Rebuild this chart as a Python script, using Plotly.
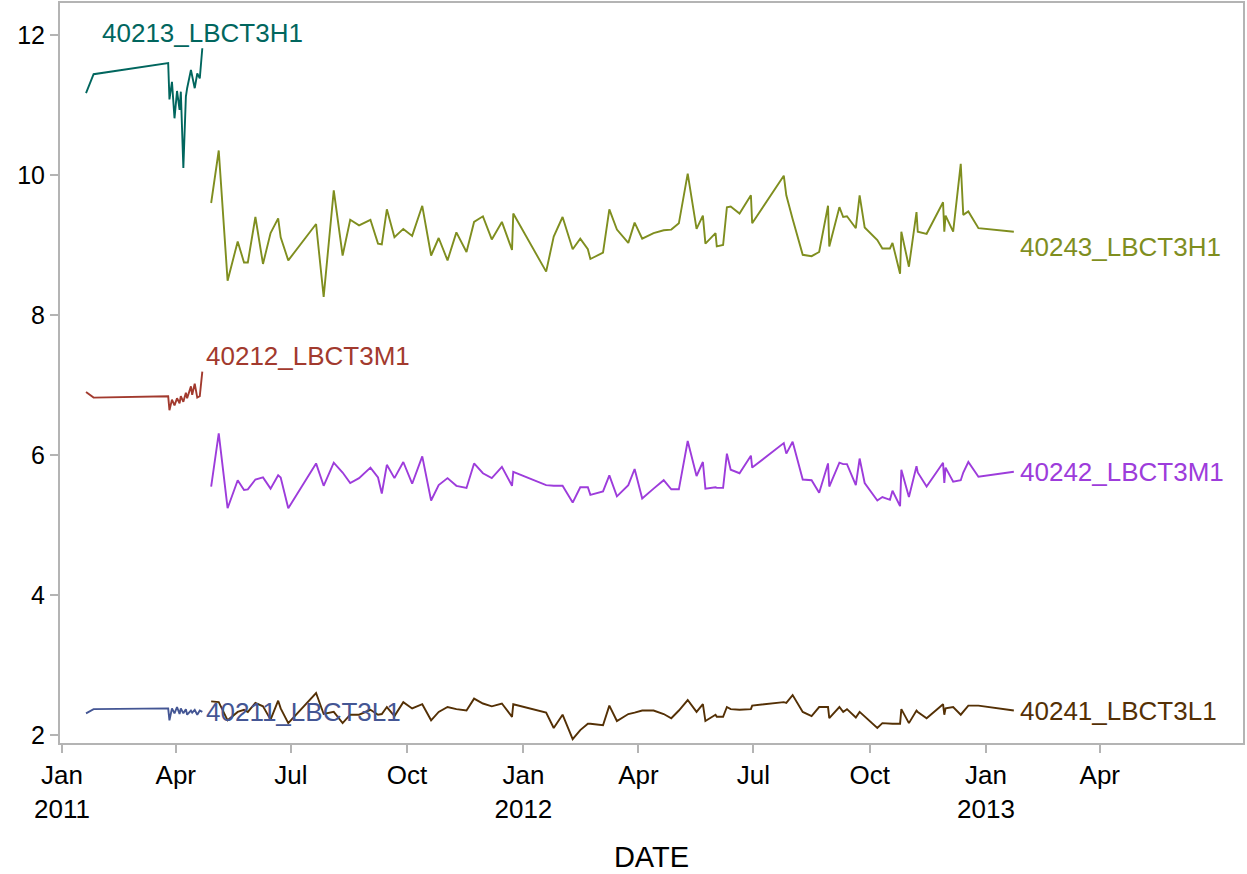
import plotly.graph_objects as go

# ---- data ----
short_dates = ["2011-01-20","2011-01-26","2011-03-26","2011-03-27","2011-03-29","2011-03-31",
               "2011-04-02","2011-04-04","2011-04-05","2011-04-07","2011-04-09","2011-04-10",
               "2011-04-13","2011-04-14","2011-04-16","2011-04-18","2011-04-20","2011-04-22"]
s40213 = [11.17,11.44,11.60,11.08,11.33,10.81,11.20,10.93,11.19,10.10,11.12,11.24,11.50,11.40,11.24,11.45,11.38,11.81]
s40212 = [6.90,6.82,6.84,6.64,6.79,6.71,6.81,6.74,6.84,6.76,6.89,6.81,6.98,6.86,7.02,6.82,6.84,7.19]
s40211 = [2.31,2.37,2.38,2.21,2.38,2.31,2.40,2.30,2.38,2.31,2.37,2.29,2.35,2.32,2.36,2.29,2.35,2.33]

long_dates = ["2011-04-29","2011-05-05","2011-05-12","2011-05-20","2011-05-25","2011-05-28",
              "2011-06-03","2011-06-09","2011-06-15","2011-06-21","2011-06-23","2011-06-29",
              "2011-07-21","2011-07-27","2011-08-04","2011-08-11","2011-08-17","2011-08-24",
              "2011-09-02","2011-09-08","2011-09-11","2011-09-15","2011-09-21","2011-09-28",
              "2011-10-05","2011-10-13","2011-10-20","2011-10-26","2011-11-02","2011-11-09",
              "2011-11-17","2011-11-23","2011-11-30","2011-12-07","2011-12-15","2011-12-23",
              "2011-12-24","2012-01-19","2012-01-25","2012-02-01","2012-02-09","2012-02-15",
              "2012-02-21","2012-02-23","2012-03-04","2012-03-09","2012-03-15","2012-03-24",
              "2012-03-29","2012-04-04","2012-04-13","2012-04-21","2012-04-27","2012-05-03",
              "2012-05-10","2012-05-17","2012-05-22","2012-05-24","2012-06-01","2012-06-02",
              "2012-06-07","2012-06-10","2012-06-13","2012-06-20","2012-06-29","2012-06-30",
              "2012-07-25","2012-07-27","2012-08-01","2012-08-09","2012-08-16","2012-08-22",
              "2012-08-29","2012-08-30","2012-09-07","2012-09-10","2012-09-13","2012-09-20",
              "2012-09-23","2012-09-27","2012-10-07","2012-10-11","2012-10-17","2012-10-19",
              "2012-10-25","2012-10-26","2012-11-01","2012-11-07","2012-11-08","2012-11-15",
              "2012-11-28","2012-11-29","2012-11-30","2012-12-06","2012-12-12","2012-12-14",
              "2012-12-18","2012-12-26","2013-01-23"]
s40243 = [9.60,10.35,8.49,9.05,8.75,8.75,9.40,8.73,9.17,9.38,9.11,8.78,
          9.30,8.26,9.78,8.85,9.36,9.28,9.36,9.02,9.01,9.51,9.11,9.23,
          9.13,9.56,8.85,9.10,8.78,9.18,8.90,9.33,9.41,9.08,9.33,8.93,
          9.45,8.62,9.12,9.40,8.94,9.09,8.94,8.80,8.89,9.51,9.22,9.03,
          9.32,9.09,9.17,9.21,9.22,9.31,10.02,9.23,9.42,9.02,9.17,8.98,
          9.00,9.54,9.55,9.45,9.71,9.31,9.99,9.71,9.37,8.86,8.84,8.90,
          9.56,8.98,9.54,9.40,9.41,9.24,9.71,9.25,9.07,8.95,8.95,9.03,
          8.59,9.19,8.69,9.47,9.19,9.16,9.61,9.19,9.42,9.19,10.16,9.43,
          9.48,9.24,9.19]
s40242 = [5.55,6.31,5.24,5.64,5.50,5.51,5.65,5.68,5.52,5.71,5.68,5.24,
          5.88,5.56,5.89,5.75,5.60,5.67,5.82,5.68,5.45,5.86,5.67,5.90,
          5.59,5.98,5.35,5.57,5.67,5.56,5.53,5.88,5.74,5.67,5.83,5.56,
          5.76,5.57,5.56,5.56,5.32,5.54,5.54,5.43,5.48,5.71,5.41,5.57,
          5.80,5.38,5.52,5.64,5.51,5.51,6.20,5.70,5.90,5.52,5.54,5.53,
          5.53,6.02,5.79,5.74,5.99,5.82,6.17,6.02,6.19,5.65,5.64,5.46,
          5.88,5.55,5.89,5.87,5.87,5.57,5.95,5.60,5.35,5.40,5.36,5.49,
          5.27,5.79,5.40,5.84,5.75,5.55,5.89,5.60,5.82,5.62,5.64,5.75,
          5.90,5.69,5.76]
s40241 = [2.48,2.47,2.21,2.33,2.36,2.33,2.46,2.41,2.22,2.49,2.38,2.17,
          2.60,2.30,2.33,2.17,2.29,2.29,2.36,2.29,2.30,2.40,2.27,2.47,
          2.38,2.44,2.21,2.33,2.40,2.37,2.35,2.52,2.45,2.41,2.45,2.26,
          2.44,2.32,2.10,2.29,1.94,2.07,2.16,2.16,2.14,2.42,2.20,2.30,
          2.32,2.35,2.35,2.30,2.24,2.35,2.50,2.33,2.44,2.20,2.29,2.26,
          2.26,2.40,2.37,2.36,2.37,2.42,2.47,2.46,2.57,2.33,2.27,2.40,
          2.40,2.24,2.40,2.33,2.37,2.25,2.33,2.26,2.10,2.17,2.16,2.16,
          2.16,2.37,2.17,2.35,2.33,2.24,2.44,2.29,2.38,2.40,2.29,2.33,
          2.42,2.42,2.35]

x_tickvals = ["2011-01-01","2011-04-01","2011-07-01","2011-10-01","2012-01-01","2012-04-01",
              "2012-07-01","2012-10-01","2013-01-01","2013-04-01"]
x_ticktext = ["Jan<br>2011","Apr","Jul","Oct","Jan<br>2012","Apr","Jul","Oct","Jan<br>2013","Apr"]
y_tickvals = [2, 4, 6, 8, 10, 12]

series = [
    ("40211_LBCT3L1", short_dates, s40211, "#445694", dict(xanchor="left", yanchor="middle", xshift=2, yshift=0)),
    ("40212_LBCT3M1", short_dates, s40212, "#A23A2E", dict(xanchor="left", yanchor="middle", xshift=2, yshift=16)),
    ("40213_LBCT3H1", short_dates, s40213, "#01665E", dict(xanchor="center", yanchor="bottom", xshift=0, yshift=-2)),
    ("40241_LBCT3L1", long_dates, s40241, "#543005", dict(xanchor="left", yanchor="middle", xshift=4, yshift=0)),
    ("40242_LBCT3M1", long_dates, s40242, "#9D3CDB", dict(xanchor="left", yanchor="middle", xshift=4, yshift=0)),
    ("40243_LBCT3H1", long_dates, s40243, "#7F8E1F", dict(xanchor="left", yanchor="middle", xshift=4, yshift=-15)),
]

FONT = "Liberation Sans, Arial, sans-serif"
fig = go.Figure()
annotations = []
for name, xs, ys, color, lab in series:
    fig.add_trace(go.Scatter(x=xs, y=ys, mode="lines", name=name,
                             line=dict(color=color, width=1.9), showlegend=False))
    annotations.append(dict(x=xs[-1], y=ys[-1], xref="x", yref="y", text=name,
                            showarrow=False, font=dict(family=FONT, size=26, color=color),
                            **lab))

axis_common = dict(showline=True, linecolor="#B4B4B4", linewidth=2, mirror=True,
                   showgrid=False, zeroline=False, ticks="outside", tickcolor="#B4B4B4",
                   ticklen=8, tickwidth=1.5)

fig.update_layout(
    width=1247, height=874,
    margin=dict(l=60, r=4, t=3, b=131, autoexpand=False),
    paper_bgcolor="white", plot_bgcolor="white",
    annotations=annotations,
    xaxis=dict(type="date", range=["2010-12-30 10:00", "2013-07-23 07:00"],
               tickmode="array", tickvals=x_tickvals, ticktext=x_ticktext,
               tickfont=dict(family=FONT, size=26, color="#000000"),
               title=dict(text="DATE", font=dict(family=FONT, size=29, color="#000000"), standoff=24),
               automargin=False, **axis_common),
    yaxis=dict(range=[1.886, 12.457], tickmode="array", tickvals=y_tickvals,
               ticktext=[str(v) for v in y_tickvals],
               tickfont=dict(family=FONT, size=25, color="#000000"),
               automargin=False, **axis_common),
)

fig.write_html("out.html", config={"displayModeBar": False},
               post_script="document.body.style.margin='0';document.body.style.overflow='hidden';")
